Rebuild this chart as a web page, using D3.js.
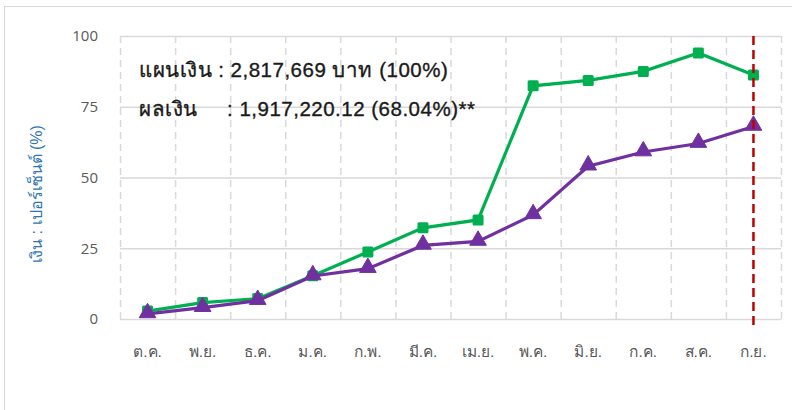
<!DOCTYPE html>
<html>
<head>
<meta charset="utf-8">
<script src="https://cdn.jsdelivr.net/npm/d3@7"></script>
<style>
  body { margin: 0; background: #fff; }
  svg { display: block; font-family: "Noto Sans", "DejaVu Sans", sans-serif; }
</style>
</head>
<body>
<svg id="chart" width="792" height="410"></svg>
<script>
// months (Thai fiscal year)
var months = ["ต.ค.", "พ.ย.", "ธ.ค.", "ม.ค.", "ก.พ.", "มี.ค.", "เม.ย.", "พ.ค.", "มิ.ย.", "ก.ค.", "ส.ค.", "ก.ย."]
// plan (%)
var planPct = [2.8, 5.8, 7.2, 15.3, 23.7, 32.2, 35.0, 82.4, 84.3, 87.5, 94.0, 86.2]
// actual (%)
var actualPct = [1.8, 4.0, 6.5, 15.2, 17.8, 26.0, 27.4, 36.8, 54.0, 59.0, 62.0, 68.04]
var yTicks = [0, 25, 50, 75, 100]
var planText = "แผนเงิน : 2,817,669 บาท (100%)"
var actualLabel = "ผลเงิน"
var actualText = ": 1,917,220.12 (68.04%)**"
var yTitle = "เงิน : เปอร์เซ็นต์ (%)"
var currentMonth = "ก.ย."

var svg = d3.select("#chart")

// outer border of the chart box
svg.append("rect")
    .attr("x", 4.5).attr("y", 6.5)
    .attr("width", 800).attr("height", 420)
    .attr("fill", "none").attr("stroke", "#d9d9d9")

var x = d3.scaleBand().domain(months).range([120, 781])
var y = d3.scaleLinear().domain([0, 100]).range([319, 36])
var cx = d => x(d) + x.bandwidth() / 2

// horizontal grid
svg.append("g").selectAll("line").data(yTicks).join("line")
    .attr("x1", 120).attr("x2", 781)
    .attr("y1", d => y(d) + 0.5).attr("y2", d => y(d) + 0.5)
    .attr("stroke", "#d9d9d9").attr("stroke-width", 1.3)

// vertical dashed grid at band edges
var edges = months.map(m => x(m)).concat([781])
svg.append("g").selectAll("line").data(edges).join("line")
    .attr("x1", d => d + 0.5).attr("x2", d => d + 0.5)
    .attr("y1", y(100)).attr("y2", y(0))
    .attr("stroke", "#d9d9d9").attr("stroke-width", 1.5)
    .attr("stroke-dasharray", "7,5")

// y axis labels
var yAxis = d3.axisLeft(y).tickValues(yTicks).tickSize(0).tickPadding(22)
svg.append("g").attr("transform", "translate(120,0)").call(yAxis)
    .call(g => g.select(".domain").remove())
    .call(g => g.selectAll("text").attr("fill", "#595959")
        .style("font-size", "15px").style("font-family", "'Open Sans', sans-serif"))

// x axis labels
var xAxis = d3.axisBottom(x).tickSize(0).tickPadding(27)
svg.append("g").attr("transform", "translate(0,319)").call(xAxis)
    .call(g => g.select(".domain").remove())
    .call(g => g.selectAll("text").attr("fill", "#595959").style("font-size", "15.5px"))

// y title
svg.append("text")
    .attr("transform", "translate(42,194) rotate(-90)")
    .attr("text-anchor", "middle")
    .attr("fill", "#2e75b6")
    .style("font-size", "16px")
    .style("font-family", "'Liberation Sans', sans-serif")
    .text(yTitle)

var line = d3.line().x((d, i) => cx(months[i])).y(d => y(d))

// plan line (green squares)
svg.append("path").datum(planPct)
    .attr("d", line).attr("fill", "none")
    .attr("stroke", "#00b050").attr("stroke-width", 3.2)
svg.append("g").selectAll("rect").data(planPct).join("rect")
    .attr("x", (d, i) => cx(months[i]) - 5.5)
    .attr("y", d => y(d) - 5.5)
    .attr("width", 11).attr("height", 11).attr("rx", 1.5)
    .attr("fill", "#00b050")

// actual line (purple triangles)
svg.append("path").datum(actualPct)
    .attr("d", line).attr("fill", "none")
    .attr("stroke", "#7030a0").attr("stroke-width", 3.2)
svg.append("g").selectAll("path.tri").data(actualPct).join("path")
    .attr("class", "tri")
    .attr("d", d3.symbol(d3.symbolTriangle, 120))
    .attr("transform", (d, i) => "translate(" + cx(months[i]) + "," + (y(d) - 1) + ")")
    .attr("fill", "#7030a0").attr("stroke", "#7030a0").attr("stroke-linejoin", "round")

// current month marker
svg.append("line")
    .attr("x1", cx(currentMonth)).attr("x2", cx(currentMonth))
    .attr("y1", y(100)).attr("y2", 326)
    .attr("stroke", "#c00000").attr("stroke-width", 2.5)
    .attr("stroke-dasharray", "9,5")

// annotation text
var note = svg.append("g").style("font-size", "20.5px").attr("fill", "#1a1a1a")
    .attr("stroke", "#1a1a1a").attr("stroke-width", 0.35)
    .style("letter-spacing", "0.5px")
    .style("font-family", "'Liberation Sans', sans-serif")
note.append("text").attr("x", 139).attr("y", 77).text(planText)
note.append("text").attr("x", 139).attr("y", 116).text(actualLabel)
note.append("text").attr("x", 227).attr("y", 116).text(actualText)
</script>
</body>
</html>
